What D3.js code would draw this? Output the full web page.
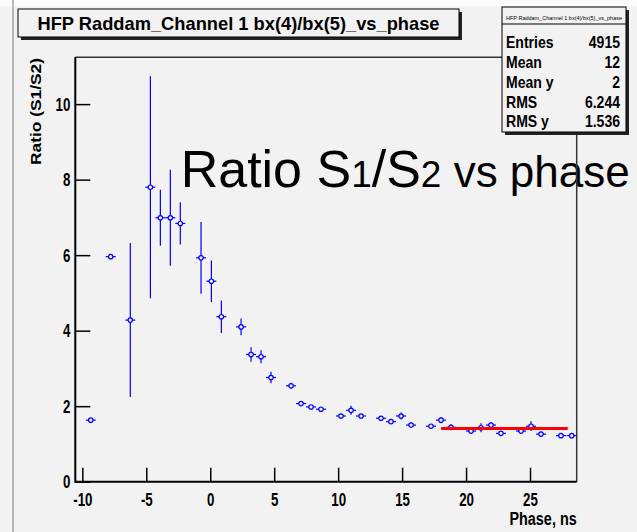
<!DOCTYPE html>
<html>
<head>
<meta charset="utf-8">
<script src="https://cdn.jsdelivr.net/npm/d3@7"></script>
<style>
  body { margin: 0; background: #f2f2f2; }
  svg { display: block; font-family: "Liberation Sans", Arial, sans-serif; }
</style>
</head>
<body>
<script>
// values
var phase = [-9.34, -7.78, -6.25, -4.68, -3.90, -3.12, -2.34, -0.72, 0.09, 0.87, 2.41, 3.19, 3.97, 4.75,
             6.32, 7.10, 7.88, 8.66, 10.22, 11.01, 11.79, 13.35, 14.13, 14.92, 15.70, 17.26, 18.04, 18.82,
             20.39, 21.17, 21.95, 22.73, 24.30, 25.08, 25.86, 27.42, 28.26];
var ratio = [1.63, 5.96, 4.28, 7.80, 6.99, 6.99, 6.84, 5.93, 5.31, 4.37, 4.10, 3.37, 3.31, 2.76,
             2.54, 2.07, 1.98, 1.92, 1.74, 1.89, 1.74, 1.68, 1.59, 1.74, 1.50, 1.47, 1.63, 1.44,
             1.34, 1.43, 1.50, 1.28, 1.34, 1.47, 1.26, 1.22, 1.22];
var ratioErr = [0.03, 0.03, 2.04, 2.94, 0.74, 1.27, 0.56, 0.95, 0.55, 0.43, 0.22, 0.19, 0.17, 0.15,
                0.08, 0.07, 0.05, 0.05, 0.05, 0.12, 0.05, 0.05, 0.06, 0.09, 0.07, 0.05, 0.08, 0.08,
                0.05, 0.12, 0.07, 0.06, 0.05, 0.13, 0.06, 0.05, 0.07];
var phaseErr = 0.39;

var fitRange = [18.05, 27.95];
var fitValue = 1.41;

var xMajor = [-10, -5, 0, 5, 10, 15, 20, 25];
var yMajor = [0, 2, 4, 6, 8, 10];

var titleText = "HFP Raddam_Channel 1 bx(4)/bx(5)_vs_phase";
var statLabels = ["Entries", "Mean", "Mean y", "RMS", "RMS y"];
var statValues = ["4915", "12", "2", "6.244", "1.536"];

var W = 637, H = 532;
var frame = {left: 75.3, right: 576.7, top: 57.3, bottom: 481.7};

var svg = d3.select("body").append("svg").attr("width", W).attr("height", H);

// squeeze text horizontally, the screenshot is narrower than ROOT drew it
function squeeze(sel, f) {
  sel.each(function() {
    var w = this.getComputedTextLength();
    d3.select(this).attr("textLength", w * f).attr("lengthAdjust", "spacingAndGlyphs");
  });
}

svg.append("rect").attr("width", W).attr("height", H).attr("fill", "#f2f2f2");
svg.append("rect").attr("width", W).attr("height", 6).attr("fill", "#fbfbfb");
svg.append("line").attr("x1", 13).attr("x2", 13).attr("y1", 0).attr("y2", H)
  .attr("stroke", "#b8b8b8").attr("stroke-width", 2);

var x = d3.scaleLinear().domain([-10.55, 28.65]).range([frame.left, frame.right]);
var y = d3.scaleLinear().domain([0, 11.24]).range([frame.bottom, frame.top]);

// big annotation pasted on top of the plot
var ann = svg.append("text").attr("x", 180.7).attr("y", 186.7).attr("fill", "#000");
ann.append("tspan").attr("font-size", 52).text("Ratio S");
ann.append("tspan").attr("font-size", 37).text("1");
ann.append("tspan").attr("font-size", 52).text("/S");
ann.append("tspan").attr("font-size", 37).text("2");
ann.append("tspan").attr("font-size", 44).text(" vs phase");
ann.attr("textLength", 449).attr("lengthAdjust", "spacingAndGlyphs");

// frame
svg.append("line").attr("x1", frame.left).attr("x2", frame.right).attr("y1", frame.top).attr("y2", frame.top)
  .attr("stroke", "#333").attr("stroke-width", 1.5);
svg.append("line").attr("x1", frame.right).attr("x2", frame.right).attr("y1", frame.top).attr("y2", frame.bottom)
  .attr("stroke", "#333").attr("stroke-width", 1.5);

var plain = function(d) { return String(d); };

// y axis
var yMinor = d3.range(0, 11.01, 0.5).filter(function(v) { return v % 2 !== 0; });
var gy = svg.append("g").attr("transform", "translate(" + frame.left + ",0)");
gy.call(d3.axisLeft(y).tickValues(yMinor).tickSize(-8).tickFormat(""));
gy.call(d3.axisLeft(y).tickValues(yMajor).tickSize(-15).tickPadding(5).tickFormat(plain));
gy.selectAll(".domain").remove();
gy.selectAll("line").attr("stroke", "#000").attr("stroke-width", 1.5);
gy.selectAll("text").attr("font-size", 19).attr("font-weight", "bold").attr("fill", "#000")
  .attr("font-family", "Liberation Sans, Arial, sans-serif");
squeeze(gy.selectAll("text"), 0.7);

// x axis
var xMinor = d3.range(-10, 29, 1).filter(function(v) { return v % 5 !== 0; });
var gx = svg.append("g").attr("transform", "translate(0," + frame.bottom + ")");
gx.call(d3.axisBottom(x).tickValues(xMinor).tickSize(-7).tickFormat(""));
gx.call(d3.axisBottom(x).tickValues(xMajor).tickSize(-14).tickPadding(11).tickFormat(plain));
gx.selectAll(".domain").remove();
gx.selectAll("line").attr("stroke", "#000").attr("stroke-width", 1.5);
gx.selectAll("text").attr("font-size", 19).attr("font-weight", "bold").attr("fill", "#000")
  .attr("font-family", "Liberation Sans, Arial, sans-serif");
squeeze(gx.selectAll("text"), 0.7);

svg.append("line").attr("x1", frame.left).attr("x2", frame.left).attr("y1", frame.top).attr("y2", frame.bottom + 1)
  .attr("stroke", "#000").attr("stroke-width", 2);
svg.append("line").attr("x1", frame.left).attr("x2", frame.right).attr("y1", frame.bottom).attr("y2", frame.bottom)
  .attr("stroke", "#000").attr("stroke-width", 2);

// axis titles
var xt = svg.append("text").attr("x", frame.right).attr("y", 525).attr("text-anchor", "end")
  .attr("font-size", 18).attr("font-weight", "bold").text("Phase, ns");
squeeze(xt, 0.8);
svg.append("text").attr("transform", "translate(41,58) rotate(-90)").attr("text-anchor", "end")
  .attr("font-size", 14).attr("font-weight", "bold")
  .attr("textLength", 107).attr("lengthAdjust", "spacingAndGlyphs")
  .text("Ratio (S1/S2)");

// data points with error bars
var pts = svg.append("g").selectAll("g").data(phase).enter().append("g");
pts.append("line")
  .attr("x1", function(d) { return x(d - phaseErr); })
  .attr("x2", function(d) { return x(d + phaseErr); })
  .attr("y1", function(d, i) { return y(ratio[i]); })
  .attr("y2", function(d, i) { return y(ratio[i]); })
  .attr("stroke", "#0000ff").attr("stroke-width", 1.2);
pts.append("line")
  .attr("x1", function(d) { return x(d); })
  .attr("x2", function(d) { return x(d); })
  .attr("y1", function(d, i) { return y(ratio[i] - ratioErr[i]); })
  .attr("y2", function(d, i) { return y(ratio[i] + ratioErr[i]); })
  .attr("stroke", "#0000ff").attr("stroke-width", 1.2);
pts.append("circle")
  .attr("cx", function(d) { return x(d); })
  .attr("cy", function(d, i) { return y(ratio[i]); })
  .attr("r", 2.2)
  .attr("fill", "#f2f2f2").attr("stroke", "#0000ff").attr("stroke-width", 1.2);

// fit line
svg.append("line")
  .attr("x1", x(fitRange[0])).attr("x2", x(fitRange[1]))
  .attr("y1", y(fitValue)).attr("y2", y(fitValue))
  .attr("stroke", "#ff0000").attr("stroke-width", 3);

// stats box
var sb = {x: 502, y: 7, w: 124, h: 125};
svg.append("rect").attr("x", sb.x + 3).attr("y", sb.y + 3).attr("width", sb.w).attr("height", sb.h).attr("fill", "#222");
svg.append("rect").attr("x", sb.x).attr("y", sb.y).attr("width", sb.w).attr("height", sb.h)
  .attr("fill", "#f2f2f2").attr("stroke", "#000").attr("stroke-width", 1);
svg.append("line").attr("x1", sb.x).attr("x2", sb.x + sb.w).attr("y1", 24).attr("y2", 24).attr("stroke", "#000");
svg.append("text").attr("x", sb.x + sb.w / 2).attr("y", 19.5).attr("text-anchor", "middle")
  .attr("font-size", 6).attr("textLength", 116).attr("lengthAdjust", "spacingAndGlyphs").text(titleText);
var rowY = [48, 68, 87.5, 107.5, 127];
statLabels.forEach(function(s, i) {
  var t = svg.append("text").attr("x", 506).attr("y", rowY[i]).attr("font-size", 16.5).attr("font-weight", "bold").text(s);
  squeeze(t, 0.85);
  var v = svg.append("text").attr("x", 620).attr("y", rowY[i]).attr("text-anchor", "end")
    .attr("font-size", 16.5).attr("font-weight", "bold").text(statValues[i]);
  squeeze(v, 0.85);
});

// title box
svg.append("rect").attr("x", 21).attr("y", 12).attr("width", 441).attr("height", 28).attr("fill", "#222");
svg.append("rect").attr("x", 18).attr("y", 9).attr("width", 441).attr("height", 28)
  .attr("fill", "#f2f2f2").attr("stroke", "#000").attr("stroke-width", 1);
svg.append("text").attr("x", 238.5).attr("y", 30).attr("text-anchor", "middle")
  .attr("font-size", 19).attr("font-weight", "bold")
  .attr("textLength", 402).attr("lengthAdjust", "spacingAndGlyphs").text(titleText);
</script>
</body>
</html>
